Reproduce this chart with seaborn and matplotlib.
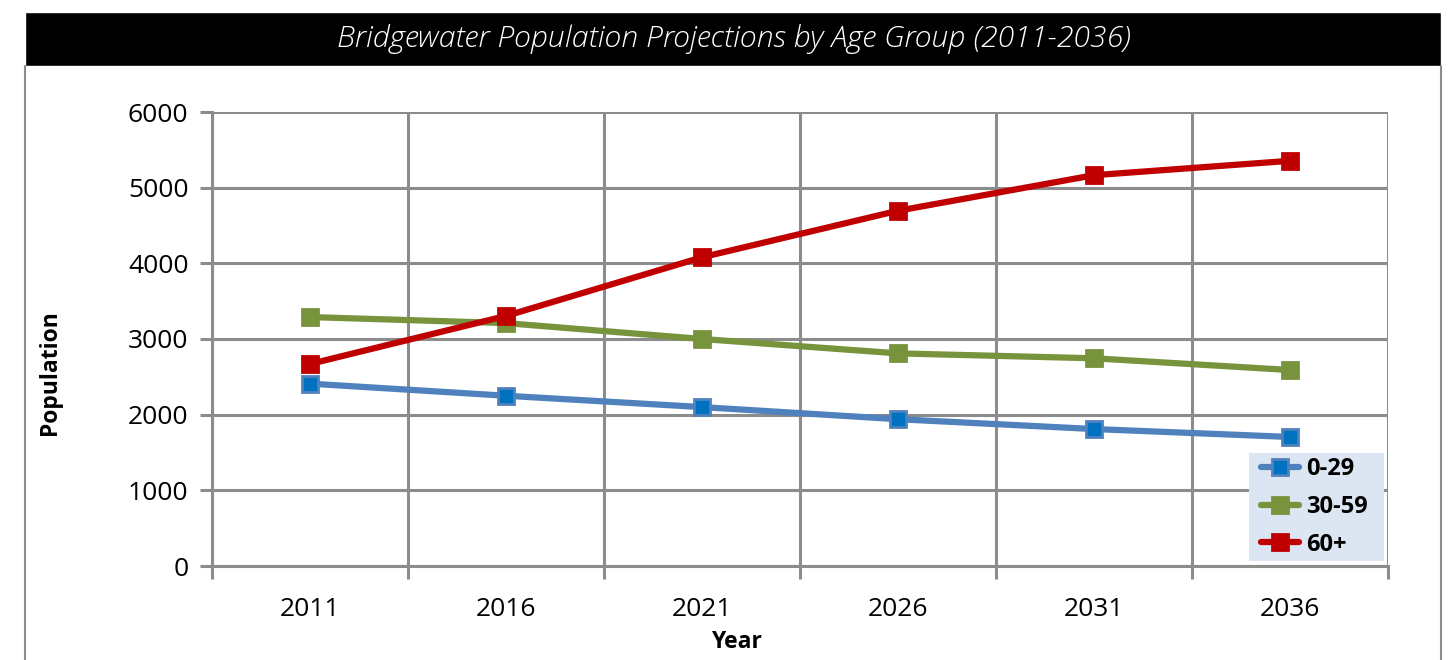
import pandas as pd
import seaborn as sns
import matplotlib.pyplot as plt
from matplotlib.patches import Rectangle
from matplotlib.lines import Line2D
from matplotlib.ticker import FixedLocator

anos = ['2011', '2016', '2021', '2026', '2031', '2036']
grupos = ['0-29', '30-59', '60+']
pop_0_29 = [2410, 2250, 2100, 1940, 1810, 1705]
pop_30_59 = [3290, 3210, 3000, 2810, 2745, 2590]
pop_60_mais = [2670, 3305, 4080, 4695, 5165, 5355]

df = pd.DataFrame({
    'Year': anos * 3,
    'Population': pop_0_29 + pop_30_59 + pop_60_mais,
    'Grupo': [g for g in grupos for _ in anos],
})

cores_linha = {'0-29': '#4F81BD', '30-59': '#77933C', '60+': '#C00000'}
cores_marcador = {'0-29': '#0070C0', '30-59': '#77933C', '60+': '#C00000'}

sns.set_style('white')
plt.rcParams['font.family'] = ['Open Sans', 'DejaVu Sans']
plt.rcParams['text.color'] = 'black'
plt.rcParams['axes.labelcolor'] = 'black'
plt.rcParams['xtick.color'] = 'black'
plt.rcParams['ytick.color'] = 'black'

fig = plt.figure(figsize=(14.53, 6.6), dpi=100)
ax = fig.add_axes([212 / 1453, 1 - 566 / 660, 1176 / 1453, 454 / 660])

sns.lineplot(data=df, x='Year', y='Population', hue='Grupo', palette=cores_linha,
             linewidth=4.5, sort=False, legend=False, ax=ax)

# marcadores quadrados
for g in grupos:
    sub = df[df['Grupo'] == g]
    ax.plot(range(len(anos)), sub['Population'], linestyle='none', marker='s',
            markersize=11, markerfacecolor=cores_marcador[g],
            markeredgecolor=cores_linha[g], markeredgewidth=2, zorder=5)

ax.set_xlim(-0.5, 5.5)
ax.set_ylim(0, 6000)
ax.set_yticks(range(0, 6001, 1000))
ax.set_xticks(range(len(anos)))
ax.set_xticklabels(anos)
ax.xaxis.set_minor_locator(FixedLocator([i - 0.5 for i in range(7)]))

ax.grid(False)
ax.yaxis.grid(True, color='#8C8C8C', linewidth=2.2)
ax.xaxis.grid(True, which='minor', color='#8C8C8C', linewidth=2.2)
ax.set_axisbelow(True)
for s in ['top', 'right']:
    ax.spines[s].set_visible(False)
for s in ['left', 'bottom']:
    ax.spines[s].set_color('#8C8C8C')
    ax.spines[s].set_linewidth(2.2)

ax.tick_params(axis='y', which='major', length=9, width=2.2, color='#8C8C8C',
               labelsize=19, pad=8, left=True, labelcolor='black')
ax.tick_params(axis='x', which='major', length=0, labelsize=19, pad=22,
               labelcolor='black')
ax.tick_params(axis='x', which='minor', length=9, width=2.2, color='#8C8C8C',
               bottom=True)

ax.set_ylabel('Population', fontsize=16.5, fontweight='bold')
ax.yaxis.set_label_coords(-0.1276, 0.427)
ax.set_xlabel('Year', fontsize=16.5, fontweight='bold')
ax.xaxis.set_label_coords(0.4464, -0.141)

# legenda: fundo desenhado a parte para ter folga horizontal maior
ax.add_patch(Rectangle((0.8818, 0.011), 0.1148, 0.2378, transform=ax.transAxes,
                       facecolor='#DCE6F2', edgecolor='none', zorder=4.5))
handles = [Line2D([0], [0], color=cores_linha[g], linewidth=4.5, marker='s',
                  markersize=11, markerfacecolor=cores_marcador[g],
                  markeredgecolor=cores_linha[g], markeredgewidth=2)
           for g in grupos]
leg = ax.legend(handles, grupos, loc='center', bbox_to_anchor=(0.9375, 0.13),
                frameon=False, handlelength=1.6, handletextpad=0.3,
                labelspacing=0.58, borderpad=0.2,
                prop={'size': 17, 'weight': 'bold'})
leg.set_zorder(6)

# faixa do titulo
fig.patches.append(Rectangle((25 / 1453, 1 - 66 / 660), 1416 / 1453, 54 / 660,
                             transform=fig.transFigure, facecolor='black', zorder=0))
fig.text(734 / 1453, 1 - 39 / 660,
         'Bridgewater Population Projections by Age Group (2011-2036)',
         color='white', fontsize=21.8, style='italic', fontweight='light',
         ha='center', va='center')
for xb in [25, 1441]:
    fig.add_artist(Line2D([xb / 1453, xb / 1453], [0, 1 - 66 / 660],
                          transform=fig.transFigure, color='#8C8C8C', linewidth=1.5))

plt.savefig('out.png', dpi=100)
